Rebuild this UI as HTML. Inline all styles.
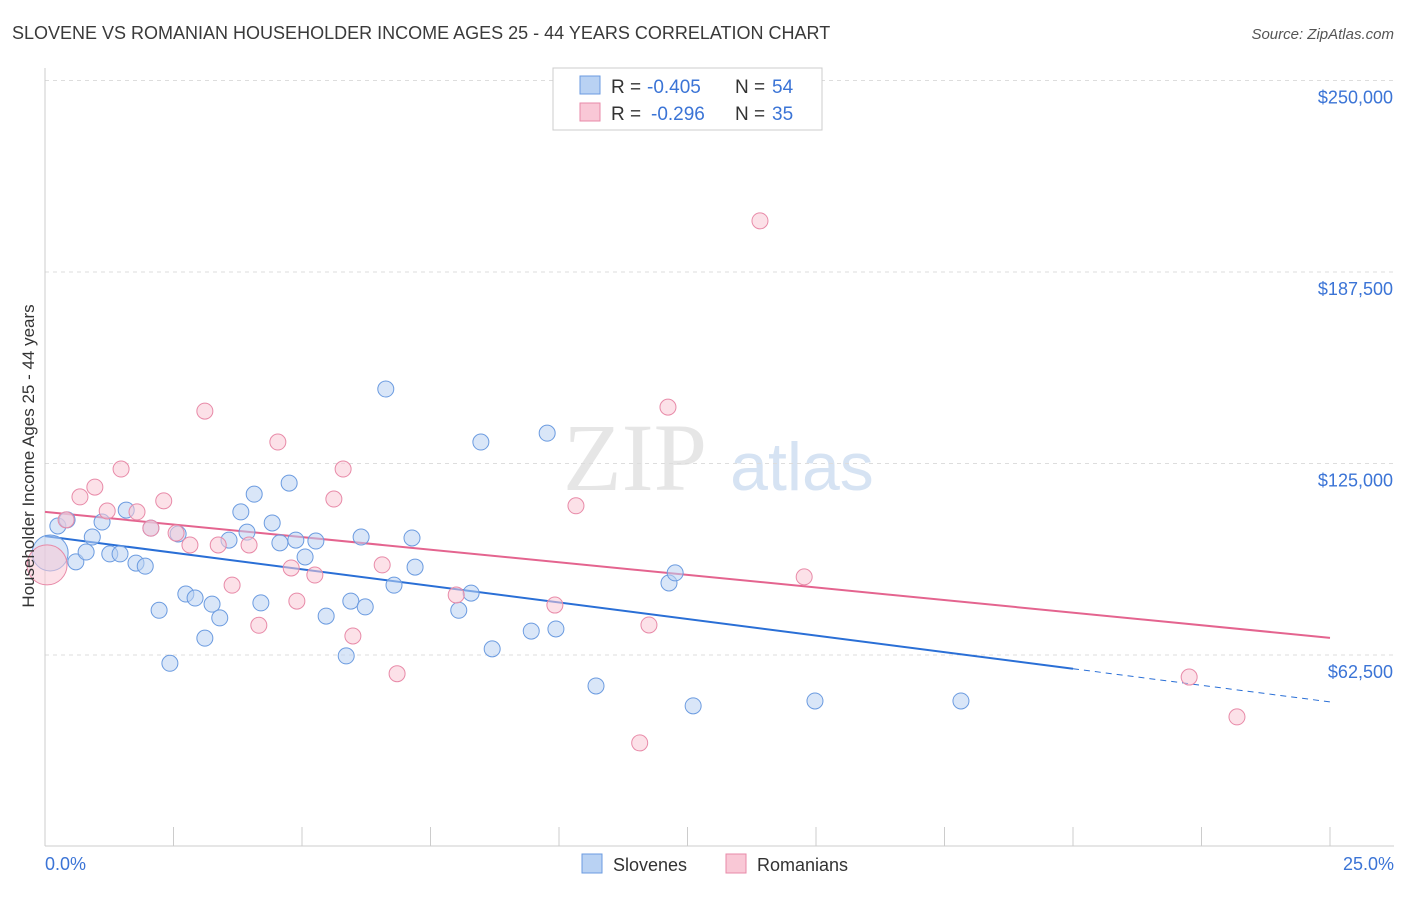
<!DOCTYPE html>
<html><head><meta charset="utf-8"><style>
body{margin:0;background:#fff;width:1406px;height:892px;overflow:hidden;font-family:"Liberation Sans",sans-serif}
</style></head><body>
<svg id="chart" width="1406" height="892" xmlns="http://www.w3.org/2000/svg">
<text x="12" y="39" font-size="18" fill="#3a3a3a">SLOVENE VS ROMANIAN HOUSEHOLDER INCOME AGES 25 - 44 YEARS CORRELATION CHART</text>
<text x="1394" y="39" font-size="15" fill="#555" font-style="italic" text-anchor="end">Source: ZipAtlas.com</text>
<g>
<text x="635" y="490" font-size="96" font-family="Liberation Serif,serif" fill="#e6e6e6" text-anchor="middle">ZIP</text>
<text x="802" y="490" font-size="68" fill="#d6e3f3" text-anchor="middle">atlas</text>
</g>
<g id="grid"></g><g id="axes"></g><g id="trends"></g><g id="points"></g>
<text transform="translate(34,456) rotate(-90)" font-size="17" fill="#333" text-anchor="middle">Householder Income Ages 25 - 44 years</text>
<text x="45" y="870" font-size="18" fill="#3b74d6">0.0%</text>
<text x="1394" y="870" font-size="18" fill="#3b74d6" text-anchor="end">25.0%</text>
<g>
<rect x="553" y="68" width="269" height="62" fill="#fff" stroke="#ccc"/>
<rect x="580" y="76" width="20" height="18" fill="#b9d2f3" stroke="#6b9be0"/>
<rect x="580" y="103" width="20" height="18" fill="#f9c8d6" stroke="#e88aa8"/>
<text x="611" y="93" font-size="19" fill="#333">R =</text>
<text x="647" y="93" font-size="19" fill="#3b74d6">-0.405</text>
<text x="735" y="93" font-size="19" fill="#333">N =</text>
<text x="772" y="93" font-size="19" fill="#3b74d6">54</text>
<text x="611" y="120" font-size="19" fill="#333">R =</text>
<text x="651" y="120" font-size="19" fill="#3b74d6">-0.296</text>
<text x="735" y="120" font-size="19" fill="#333">N =</text>
<text x="772" y="120" font-size="19" fill="#3b74d6">35</text>
</g>
<g>
<rect x="582" y="854" width="20" height="19" fill="#b9d2f3" stroke="#6b9be0"/>
<text x="613" y="871" font-size="18" fill="#333">Slovenes</text>
<rect x="726" y="854" width="20" height="19" fill="#f9c8d6" stroke="#e88aa8"/>
<text x="757" y="871" font-size="18" fill="#333">Romanians</text>
</g>
</svg>
<script>
const yTicks=[62.5,125,187.5,250];
const yTickLabels=["$62,500","$125,000","$187,500","$250,000"];
const xTicks=[0,2.5,5,7.5,10,12.5,15,17.5,20,22.5,25];
const sloveneX=[0.10,0.25,0.43,0.60,0.80,0.92,1.11,1.26,1.46,1.58,1.77,1.95,2.06,2.22,2.43,2.59,2.74,2.92,3.11,3.25,3.40,3.58,3.81,3.93,4.07,4.20,4.42,4.57,4.75,4.88,5.06,5.27,5.47,5.86,5.95,6.15,6.23,6.63,6.79,7.14,7.20,8.05,8.29,8.48,8.70,9.46,9.77,9.94,10.72,12.14,12.26,12.61,14.98,17.82];
const sloveneY=[95.8,104.6,106.6,92.9,96.1,101.0,105.9,95.5,95.5,109.8,92.5,91.5,103.9,77.1,59.8,102.0,82.4,81.1,68.0,79.1,74.6,100.0,109.2,102.6,115.0,79.5,105.6,99.1,118.6,100.0,94.5,99.7,75.2,62.2,80.1,101.0,78.2,149.3,85.3,100.7,91.2,77.1,82.7,132.0,64.5,70.3,134.9,71.0,52.4,86.0,89.3,45.9,47.5,47.5];
const romanianX=[0.04,0.41,0.68,0.97,1.21,1.48,1.79,2.06,2.31,2.55,2.82,3.11,3.37,3.64,3.97,4.16,4.53,4.79,4.90,5.25,5.62,5.80,5.99,6.56,6.85,8.00,9.92,10.33,11.57,11.75,12.12,13.91,14.77,22.26,23.19];
const romanianY=[91.9,106.6,114.1,117.3,109.5,123.2,109.2,103.9,112.8,102.3,98.4,142.1,98.4,85.3,98.4,72.2,132.0,90.9,80.1,88.6,113.4,123.2,68.7,91.9,56.4,82.1,78.8,111.2,33.8,72.3,143.4,204.2,88.0,55.3,42.3];
const sloveneTrend=[101.3,47.2];
const romanianTrend=[109.2,68.1];
const NS="http://www.w3.org/2000/svg";
const X=v=>45+v/25*1285, Y=v=>846.5-v/62.5*191.5;
function mk(p,t,a){const e=document.createElementNS(NS,t);for(const k in a)e.setAttribute(k,a[k]);document.querySelector(p).appendChild(e);return e;}
yTicks.forEach((t,i)=>{
 const l=mk('#grid','line',{x1:45,x2:1394,y1:Y(t),y2:Y(t),stroke:'#ddd','stroke-dasharray':'4,4'});
 
 
 const tx=mk('#grid','text',{x:1393,y:Y(t)+23,'font-size':18,fill:'#3b74d6','text-anchor':'end'});tx.textContent=yTickLabels[i];
 
 
});
const ax=mk('#axes','line',{x1:45,x2:45,y1:68,y2:846,stroke:'#ccc'});


const bx=mk('#axes','line',{x1:45,x2:1394,y1:846,y2:846,stroke:'#ccc'});


xTicks.forEach(t=>{const l=mk('#axes','line',{x1:X(t),x2:X(t),y1:827,y2:846,stroke:'#ccc'});
 
 });
function tr(v,c,name,split){
 const f=x=>v[0]+(v[1]-v[0])*x/25;
 if(split){
  const a=mk('#trends','line',{x1:X(0),y1:Y(f(0)),x2:X(split),y2:Y(f(split)),stroke:c,'stroke-width':2});
  
  
  const b=mk('#trends','line',{x1:X(split),y1:Y(f(split)),x2:X(25),y2:Y(f(25)),stroke:c,'stroke-width':1,'stroke-dasharray':'6,5'});
  
  
 } else {
  const a=mk('#trends','line',{x1:X(0),y1:Y(f(0)),x2:X(25),y2:Y(f(25)),stroke:c,'stroke-width':2});
  
  
 }
}
function pts(xs,ys,fill,stroke,name,big){
 xs.forEach((x,i)=>{const c=mk('#points','circle',{cx:X(x),cy:Y(ys[i]),r:i===0?big:8,fill:fill,'fill-opacity':0.55,stroke:stroke,'stroke-width':1});
  
  });
}
pts(sloveneX,sloveneY,'#b9d2f3','#6b9be0','slovene-point',18);
pts(romanianX,romanianY,'#f9c8d6','#e88aa8','romanian-point',20);
tr(sloveneTrend,'#2a6fd6','slovene-trend-line',20);
tr(romanianTrend,'#e4648f','romanian-trend-line',0);
</script>
</body></html>
